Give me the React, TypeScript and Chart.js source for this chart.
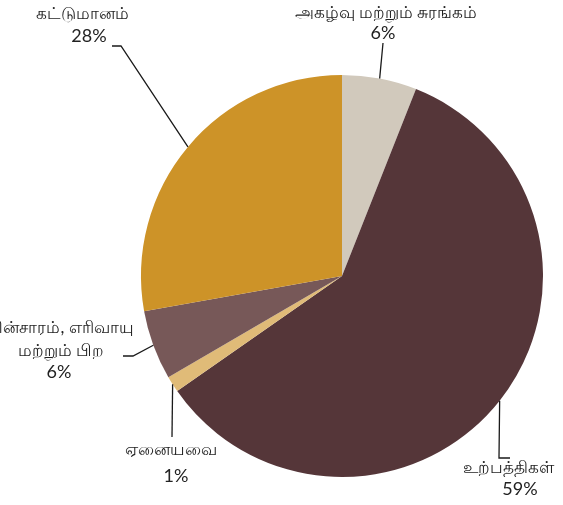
import React, { useEffect, useRef } from "react";
import { Chart, registerables } from "chart.js";

Chart.register(...registerables);

const categories = [
  "அகழ்வு மற்றும் சுரங்கம்",
  "உற்பத்திகள்",
  "ஏனையவை",
  "மின்சாரம், எரிவாயு மற்றும் பிற",
  "கட்டுமானம்",
];
const values = [6.0, 59.3, 1.3, 5.6, 27.8];
const colors = ["#d1c9bc", "#553639", "#e0bb78", "#775858", "#cd9328"];

// label layout: wrapped text lines, their centres, leader elbow and end points
const labelLayout = [
  { lines: ["அகழ்வு மற்றும் சுரங்கம்"], pos: [[386, 13], [383, 33]], elbow: [383, 43], end: [383, 43] },
  { lines: ["உற்பத்திகள்"], pos: [[508, 468], [520, 489]], elbow: [499, 458], end: [510, 458] },
  { lines: ["ஏனையவை"], pos: [[171, 450], [176, 476]], elbow: [172, 437], end: [172, 437] },
  { lines: ["மின்சாரம், எரிவாயு", "மற்றும் பிற"], pos: [[60, 328], [61, 351], [59, 372]], elbow: [133, 356], end: [123, 356] },
  { lines: ["கட்டுமானம்"], pos: [[82, 14], [89, 36]], elbow: [121, 46], end: [112, 46] },
];

const labelPlugin = {
  id: "outerLabels",
  afterDraw(chart: any) {
    const ctx = chart.ctx;
    const meta = chart.getDatasetMeta(0);
    const data = chart.data.datasets[0].data as number[];
    const total = data.reduce((a: number, b: number) => a + b, 0);
    ctx.save();
    meta.data.forEach((arc: any, i: number) => {
      const p = arc.getProps(["x", "y", "startAngle", "endAngle", "outerRadius"], true);
      const mid = (p.startAngle + p.endAngle) / 2;
      const sx = p.x + Math.cos(mid) * p.outerRadius;
      const sy = p.y + Math.sin(mid) * p.outerRadius;
      const L = labelLayout[i];
      ctx.strokeStyle = "#1a1a1a";
      ctx.lineWidth = 1.3;
      ctx.beginPath();
      ctx.moveTo(sx, sy);
      ctx.lineTo(L.elbow[0], L.elbow[1]);
      ctx.lineTo(L.end[0], L.end[1]);
      ctx.stroke();
      const pct = Math.round((data[i] / total) * 100) + "%";
      ctx.fillStyle = "#222222";
      ctx.textAlign = "center";
      ctx.textBaseline = "middle";
      L.lines.forEach((t, j) => {
        ctx.font = '17px Lato, "Noto Sans", sans-serif';
        ctx.fillText(t, L.pos[j][0], L.pos[j][1]);
      });
      const k = L.lines.length;
      ctx.font = '18px Lato, "Noto Sans", sans-serif';
      ctx.fillText(pct, L.pos[k][0], L.pos[k][1]);
    });
    ctx.restore();
  },
};

export default function App() {
  const ref = useRef<HTMLCanvasElement>(null);
  useEffect(() => {
    if (!ref.current) return;
    const chart = new Chart(ref.current, {
      type: "pie",
      data: {
        labels: categories,
        datasets: [
          {
            data: values,
            backgroundColor: colors,
            borderWidth: 0,
          },
        ],
      },
      options: {
        responsive: false,
        animation: false,
        layout: { padding: { left: 141, right: 20, top: 75, bottom: 28 } },
        plugins: {
          legend: { display: false },
          tooltip: { enabled: false },
        },
      },
      plugins: [labelPlugin],
    });
    return () => chart.destroy();
  }, []);
  return (
    <div style={{ position: "absolute", left: 0, top: 0, width: 563, height: 505, background: "#ffffff" }}>
      <canvas ref={ref} width={563} height={505} style={{ display: "block" }} />
    </div>
  );
}
